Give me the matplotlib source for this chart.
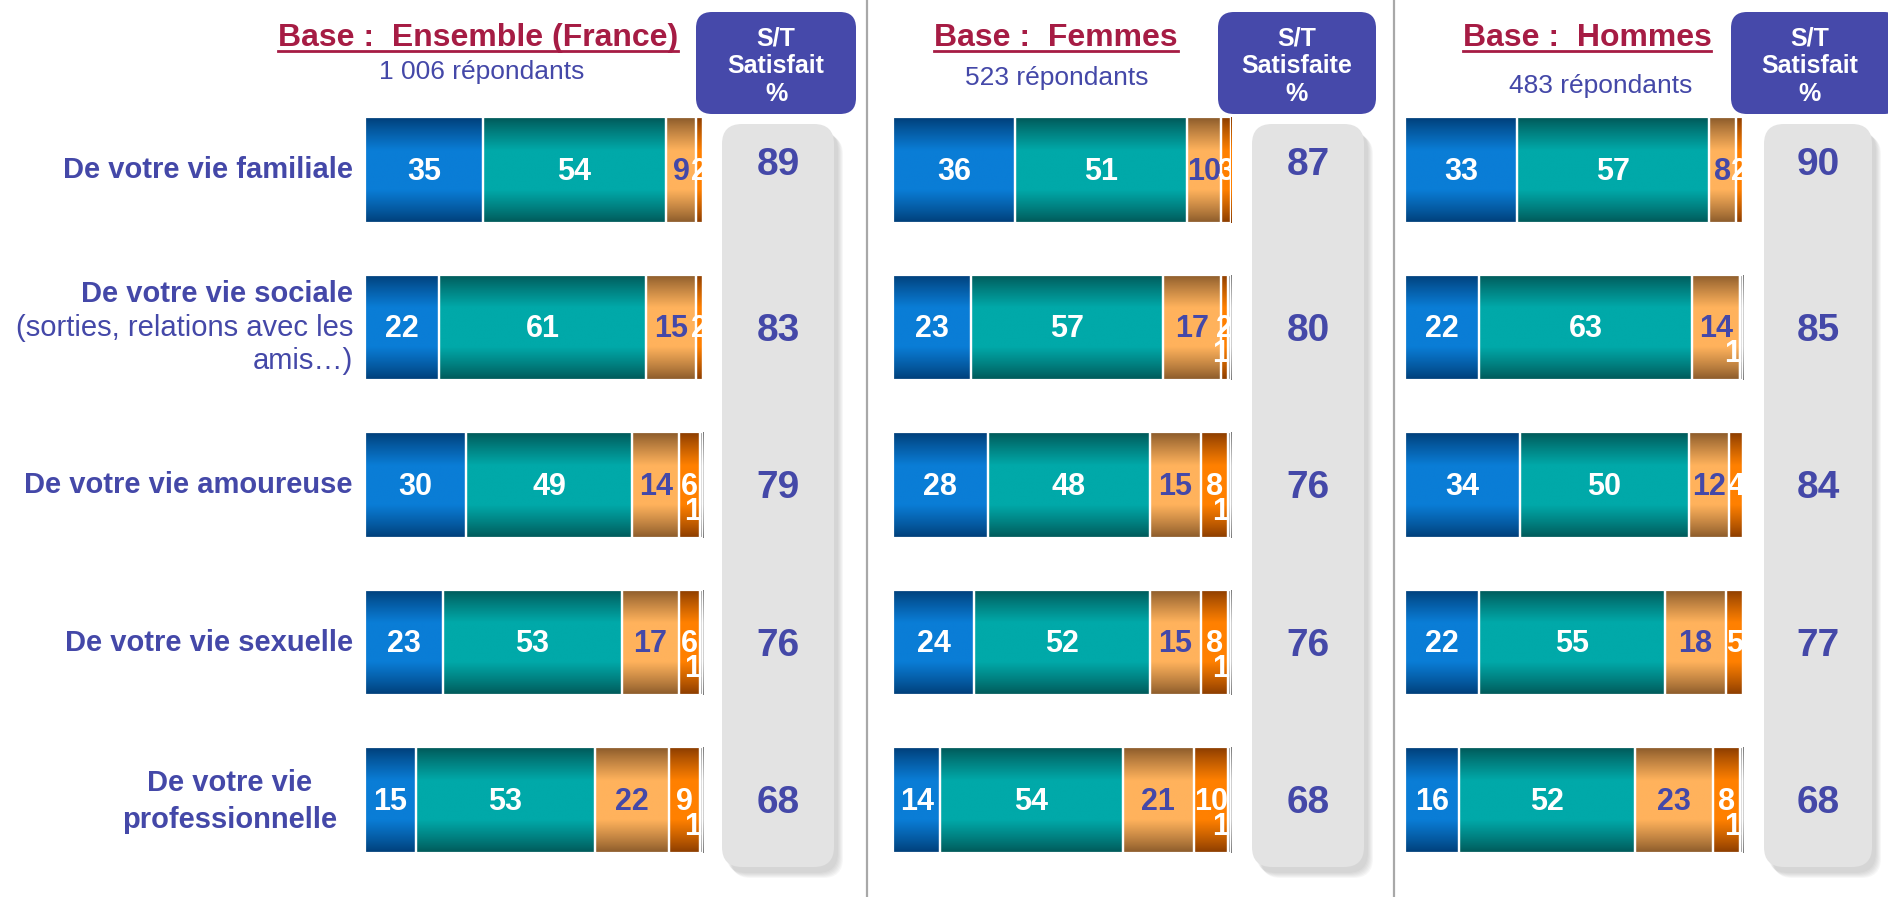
import numpy as np
import matplotlib
matplotlib.use('Agg')
import matplotlib.pyplot as plt
import matplotlib.transforms as mtransforms
from matplotlib.patches import FancyBboxPatch
from matplotlib.colors import to_rgb

plt.rcParams['font.family'] = ['Liberation Sans', 'DejaVu Sans']

# ---- data ----
categories = ['De votre vie familiale', 'De votre vie sociale', 'De votre vie amoureuse',
              'De votre vie sexuelle', 'De votre vie\nprofessionnelle']
series_names = ['Très satisfait', 'Plutôt satisfait', 'Peu satisfait', 'Pas du tout satisfait', 'NSP']

base_titles = ['Base :  Ensemble (France)', 'Base :  Femmes', 'Base :  Hommes']
respondents = ['1 006 répondants', '523 répondants', '483 répondants']
st_headers = ['S/T\nSatisfait\n%', 'S/T\nSatisfaite\n%', 'S/T\nSatisfait\n%']

ensemble_tres = [35, 22, 30, 23, 15]
ensemble_plutot = [54, 61, 49, 53, 53]
ensemble_peu = [9, 15, 14, 17, 22]
ensemble_pas = [2, 2, 6, 6, 9]
ensemble_nsp = [0, 0, 1, 1, 1]
ensemble_st = [89, 83, 79, 76, 68]

femmes_tres = [36, 23, 28, 24, 14]
femmes_plutot = [51, 57, 48, 52, 54]
femmes_peu = [10, 17, 15, 15, 21]
femmes_pas = [3, 2, 8, 8, 10]
femmes_nsp = [0, 1, 1, 1, 1]
femmes_st = [87, 80, 76, 76, 68]

hommes_tres = [33, 22, 34, 22, 16]
hommes_plutot = [57, 63, 50, 55, 52]
hommes_peu = [8, 14, 12, 18, 23]
hommes_pas = [2, 0, 4, 5, 8]
hommes_nsp = [0, 1, 0, 0, 1]
hommes_st = [90, 85, 84, 77, 68]

panels = [
    [ensemble_tres, ensemble_plutot, ensemble_peu, ensemble_pas, ensemble_nsp],
    [femmes_tres, femmes_plutot, femmes_peu, femmes_pas, femmes_nsp],
    [hommes_tres, hommes_plutot, hommes_peu, hommes_pas, hommes_nsp],
]
panel_st = [ensemble_st, femmes_st, hommes_st]

# ---- style ----
W, H = 1888, 897
TXT = '#4448A8'
RED = '#A61C44'
HEAD = '#4649AA'
# (dark, light) for each segment gradient
seg_cols = [('#003E78', '#0A7DD6'), ('#005858', '#00A9A9'), ('#8A5A2A', '#FFB25C'),
            ('#8A3C00', '#FF8000'), ('#7A7A7A', '#D0D0D0')]
lab_cols = ['white', 'white', TXT, 'white', 'white']

bar_left = [365, 893, 1405]
bar_w = 338
col_x = [(722, 834), (1252, 1364), (1764, 1872)]
head_x = [(696, 856), (1218, 1376), (1731, 1900)]
title_cx = [478, 1056, 1587]
sub_cx = [482, 1057, 1601]
sub_y = [79, 85, 93]
row0, row_step = 170, 157.5


def shade(c, n=80):
    dark, light = np.array(to_rgb(c[0])), np.array(to_rgb(c[1]))
    t = np.linspace(0, 1, n)
    w = np.clip(1.6 * (1 - np.abs(2 * t - 1)), 0, 1) ** 0.9
    return (dark + (light - dark) * w[:, None])[:, None, :]


fig = plt.figure(figsize=(W / 100, H / 100), dpi=100)
fig.patch.set_facecolor('white')
bg = fig.add_axes([0, 0, 1, 1])
bg.set_xlim(0, W)
bg.set_ylim(H, 0)
bg.axis('off')

# separators
for sx in [867, 1394]:
    bg.plot([sx, sx], [0, H], color='#A8A8A8', lw=1.6, zorder=1)

top_px = row0 - row_step / 2
bot_px = row0 + 4 * row_step + row_step / 2

for p in range(3):
    ax = fig.add_axes([bar_left[p] / W, 1 - bot_px / H, bar_w / W, (bot_px - top_px) / H])
    ax.axis('off')
    ypos = np.arange(len(categories))
    vals = panels[p]
    lefts = np.zeros(len(categories))
    for k, v in enumerate(vals):
        v = np.array(v, dtype=float)
        bars = ax.barh(ypos, v, left=lefts, height=0.667, color='none',
                       edgecolor='white', linewidth=1.6, zorder=3)
        grad = shade(seg_cols[k])
        for b in bars:
            if b.get_width() <= 0:
                continue
            x0, y0, bw, bh = b.get_x(), b.get_y(), b.get_width(), b.get_height()
            im = ax.imshow(grad, extent=(x0, x0 + bw, y0 + bh, y0), aspect='auto',
                           zorder=2, interpolation='bilinear')
            im.set_clip_path(b)
        for i in range(len(categories)):
            if v[i] <= 0:
                continue
            if k == 4:
                t = ax.text(lefts[i] - 2.2, i + 0.17, '%d' % v[i], ha='center', va='center',
                            color='white', fontsize=22, fontweight='bold', zorder=5)
            else:
                t = ax.text(lefts[i] + v[i] / 2, i + 0.01, '%d' % v[i], ha='center', va='center',
                            color=lab_cols[k], fontsize=22, fontweight='bold', zorder=5)
            t.set_clip_on(True)
        lefts = lefts + v
    ax.set_xlim(0, 100)
    ax.set_ylim(4.5, -0.5)

    # S/T column
    cx0, cx1 = col_x[p]
    for s in range(6):
        bg.add_patch(FancyBboxPatch((cx0 + 4 + s, 124 + 6 + s), cx1 - cx0, 867 - 124,
                                    boxstyle='round,pad=0,rounding_size=20',
                                    fc='#909090', ec='none', alpha=0.07, zorder=1))
    bg.add_patch(FancyBboxPatch((cx0, 124), cx1 - cx0, 867 - 124,
                                boxstyle='round,pad=0,rounding_size=20',
                                fc='#E3E3E3', ec='none', zorder=2))
    tr = mtransforms.blended_transform_factory(bg.transData, ax.transData)
    for i, st in enumerate(panel_st[p]):
        dy = -0.03 if i == 0 else 0.02
        ax.text((cx0 + cx1) / 2, i + dy, str(st), transform=tr, ha='center', va='center',
                fontsize=28, fontweight='bold', color=TXT, zorder=5)

    # header box
    hx0, hx1 = head_x[p]
    bg.add_patch(FancyBboxPatch((hx0, 12), hx1 - hx0, 102,
                                boxstyle='round,pad=0,rounding_size=16',
                                fc=HEAD, ec='none', zorder=3))
    bg.text((hx0 + min(hx1, W)) / 2, 66, st_headers[p], ha='center', va='center',
            fontsize=18, fontweight='bold', color='white', linespacing=1.2, zorder=4)

    # titles
    tt = bg.text(title_cx[p], 46, base_titles[p], ha='center', va='baseline',
                 fontsize=23, fontweight='bold', color=RED, zorder=4)
    bg.text(sub_cx[p], sub_y[p], respondents[p], ha='center', va='baseline',
            fontsize=19, color=TXT, zorder=4)
    fig.canvas.draw()
    bb = tt.get_window_extent()
    bg.plot([bb.x0, bb.x1], [51, 51], color=RED, lw=2, zorder=4)

    if p == 0:
        for i, cat in enumerate(categories):
            if i == 1:
                ax.text(353, i - 0.215, cat, transform=tr, ha='right', va='center',
                        fontsize=21, fontweight='bold', color=TXT)
                ax.text(353, i, '(sorties, relations avec les', transform=tr, ha='right',
                        va='center', fontsize=21, color=TXT)
                ax.text(353, i + 0.215, 'amis…)', transform=tr, ha='right',
                        va='center', fontsize=21, color=TXT)
            elif i == 4:
                ax.text(337, i + 0.01, cat, transform=tr, ha='right', va='center', ma='center',
                        fontsize=21, fontweight='bold', color=TXT, linespacing=1.4)
            else:
                ax.text(353, i, cat, transform=tr, ha='right', va='center',
                        fontsize=21, fontweight='bold', color=TXT)

fig.savefig('out.png', dpi=100, facecolor='white')
